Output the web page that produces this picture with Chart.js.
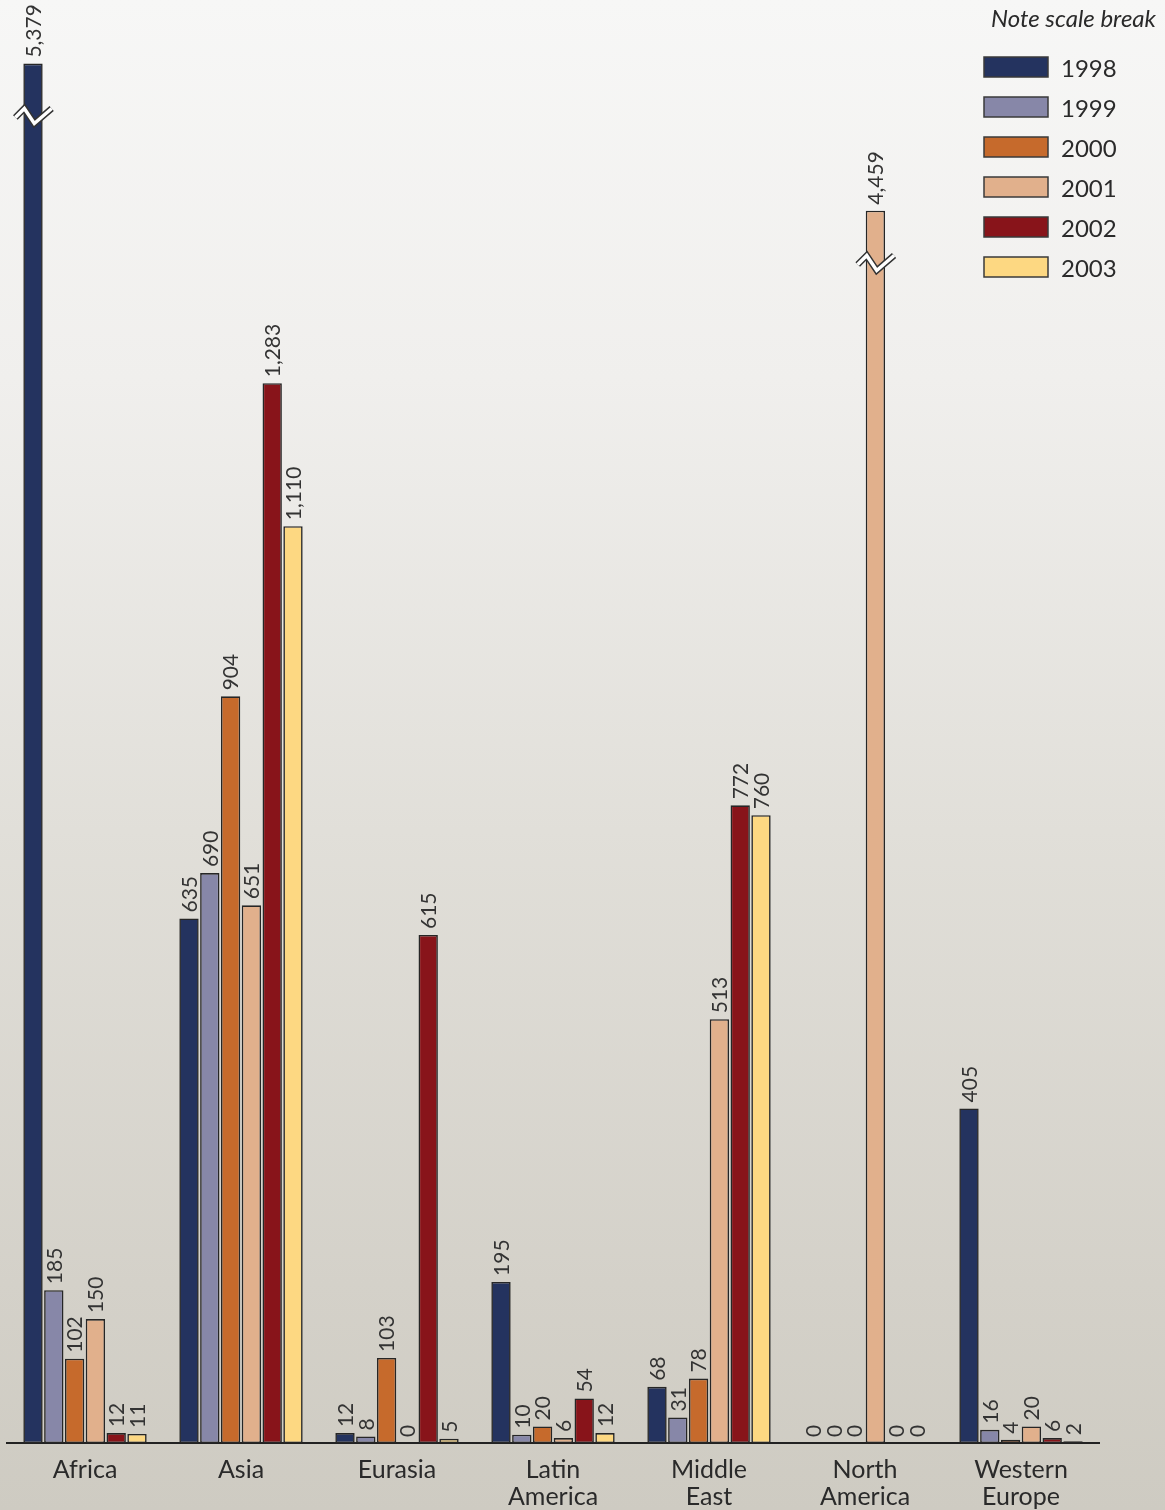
<!DOCTYPE html>
<html>
<head>
<meta charset="utf-8">
<title>Incidents by region, 1998-2003</title>
<script src="https://cdn.jsdelivr.net/npm/chart.js@4.4.0/dist/chart.umd.min.js"></script>
<style>
  html, body { margin: 0; padding: 0; }
  body {
    width: 1165px;
    height: 1510px;
    overflow: hidden;
    background: linear-gradient(to bottom, #f7f7f6 0%, #f0efed 25%, #e1dfd9 55%, #d4d1c9 85%, #cecbc2 100%);
  }
  #wrap { position: relative; width: 1165px; height: 1510px; }
</style>
</head>
<body>
<div id="wrap"><canvas id="chart"></canvas></div>
<script>
const categories = ['Africa', 'Asia', 'Eurasia', ['Latin', 'America'], ['Middle', 'East'], ['North', 'America'], ['Western', 'Europe']];
const years = ['1998', '1999', '2000', '2001', '2002', '2003'];
const colors = ['#24335f', '#8787a8', '#c66a2c', '#e1b08c', '#88141a', '#fdd882'];

const v1998 = [5379, 635, 12, 195, 68, 0, 405];
const v1999 = [185, 690, 8, 10, 31, 0, 16];
const v2000 = [102, 904, 103, 20, 78, 0, 4];
const v2001 = [150, 651, 0, 6, 513, 4459, 20];
const v2002 = [12, 1283, 615, 54, 772, 0, 6];
const v2003 = [11, 1110, 5, 12, 760, 0, 2];
const seriesValues = [v1998, v1999, v2000, v2001, v2002, v2003];

// bars cut by a scale break: height they are drawn at, and where the break mark sits (axis units)
const scaleBreaks = [
    { series: 0, index: 0, shownAs: 1670, markAt: 1606 },
    { series: 3, index: 5, shownAs: 1492, markAt: 1428 }
];

const FONT = 'Lato, "Open Sans", sans-serif';

function shownValues(si) {
    return seriesValues[si].map((v, i) => {
        const b = scaleBreaks.find(s => s.series === si && s.index === i);
        return b ? b.shownAs : v;
    });
}

// rotated numbers above every bar
const valueLabels = {
    id: 'valueLabels',
    afterDatasetsDraw(chart) {
        const ctx = chart.ctx;
        ctx.save();
        ctx.font = '21px ' + FONT;
        ctx.fillStyle = '#333';
        ctx.textAlign = 'left';
        ctx.textBaseline = 'middle';
        chart.data.datasets.forEach((ds, di) => {
            chart.getDatasetMeta(di).data.forEach((bar, i) => {
                ctx.save();
                ctx.translate(bar.x + 1, bar.y - 6);
                ctx.rotate(-Math.PI / 2);
                ctx.fillText(seriesValues[di][i].toLocaleString('en-US'), 0, 0);
                ctx.restore();
            });
        });
        ctx.restore();
    }
};

// zigzag marks on the broken bars
const breakMarks = {
    id: 'breakMarks',
    afterDatasetsDraw(chart) {
        const ctx = chart.ctx;
        const yScale = chart.scales.y;
        scaleBreaks.forEach(b => {
            const bar = chart.getDatasetMeta(b.series).data[b.index];
            const y = yScale.getPixelForValue(b.markAt);
            const left = bar.x - bar.width / 2;
            const right = bar.x + bar.width / 2;
            const pts = [[left - 8, y + 1], [left + 1, y - 8], [left + 11, y + 7], [right + 9, y - 8]];
            ctx.save();
            ctx.lineJoin = 'miter';
            ctx.lineCap = 'butt';
            [['#333', 6.5], ['#ffffff', 3.5]].forEach(([c, w]) => {
                ctx.beginPath();
                pts.forEach((p, k) => k ? ctx.lineTo(p[0], p[1]) : ctx.moveTo(p[0], p[1]));
                ctx.strokeStyle = c;
                ctx.lineWidth = w;
                ctx.stroke();
            });
            ctx.restore();
        });
    }
};

// legend box in the top right corner
const cornerLegend = {
    id: 'cornerLegend',
    afterDraw(chart) {
        const ctx = chart.ctx;
        ctx.save();
        ctx.fillStyle = '#2a2a2a';
        ctx.font = 'italic 24px ' + FONT;
        ctx.textAlign = 'right';
        ctx.textBaseline = 'alphabetic';
        ctx.fillText('Note scale break', 1156, 27);
        ctx.textAlign = 'left';
        ctx.textBaseline = 'middle';
        ctx.font = '24px ' + FONT;
        chart.data.datasets.forEach((ds, i) => {
            const top = 57 + i * 40;
            ctx.fillStyle = ds.backgroundColor;
            ctx.fillRect(984, top, 64, 20);
            ctx.strokeStyle = '#3a3a3a';
            ctx.lineWidth = 1.5;
            ctx.strokeRect(984, top, 64, 20);
            ctx.fillStyle = '#2a2a2a';
            ctx.fillText(ds.label, 1061, top + 12);
        });
        ctx.restore();
    }
};

const datasets = years.map((yr, i) => ({
    label: yr,
    data: shownValues(i),
    backgroundColor: colors[i],
    borderColor: '#262626',
    borderWidth: c => (c.raw === 0 ? 0 : 1.6),
    borderSkipped: false,
    barPercentage: 0.93,
    categoryPercentage: 0.8
}));

new Chart(document.getElementById('chart'), {
    type: 'bar',
    data: { labels: categories, datasets: datasets },
    options: {
        responsive: true,
        maintainAspectRatio: false,
        animation: false,
        layout: { padding: { left: 7, right: 66, top: 0, bottom: 0 } },
        plugins: {
            legend: { display: false },
            tooltip: { enabled: false }
        },
        scales: {
            x: {
                grid: { display: false, drawTicks: false },
                border: { display: true, color: '#222', width: 2 },
                ticks: {
                    color: '#2a2a2a',
                    font: { family: FONT, size: 25, lineHeight: 1.08 },
                    padding: 13,
                    maxRotation: 0,
                    autoSkip: false
                },
                afterFit(scale) { scale.height = 67; }
            },
            y: {
                display: false,
                min: 0,
                max: 1747
            }
        }
    },
    plugins: [valueLabels, breakMarks, cornerLegend]
});
</script>
</body>
</html>
